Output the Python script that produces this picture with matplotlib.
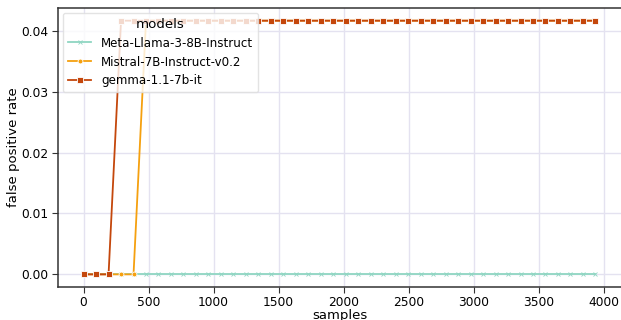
import matplotlib
matplotlib.use("Agg")
import matplotlib.pyplot as plt

samples = [0, 96, 192, 288, 384, 480, 576, 672, 768, 864, 960, 1056, 1152, 1248,
           1344, 1440, 1536, 1632, 1728, 1824, 1920, 2016, 2112, 2208, 2304, 2400,
           2496, 2592, 2688, 2784, 2880, 2976, 3072, 3168, 3264, 3360, 3456, 3552,
           3648, 3744, 3840, 3936]

H = 0.041667
llama = [0.0] * 42
mistral = [0, 0, 0, 0, 0, H, H, H, H, H, H, H, H, H, H, H, H, H, H, H, H, H, H, H,
           H, H, H, H, H, H, H, H, H, H, H, H, H, H, H, H, H, H]
gemma = [0, 0, 0, H, H, H, H, H, H, H, H, H, H, H, H, H, H, H, H, H, H, H, H, H,
         H, H, H, H, H, H, H, H, H, H, H, H, H, H, H, H, H, H]

models = ["Meta-Llama-3-8B-Instruct", "Mistral-7B-Instruct-v0.2", "gemma-1.1-7b-it"]
series = [llama, mistral, gemma]
colors = ["#8fd6c2", "#f5a00f", "#c4470c"]
markers = ["x", "o", "s"]

fig = plt.figure(figsize=(6.21, 3.2), dpi=100)
ax = fig.add_axes([0.0934, 0.103, 0.9066, 0.872])

for name, vals, c, m in zip(models, series, colors, markers):
    ax.plot(samples, vals, color=c, marker=m, markersize=3.8 if m == "s" else 3.5,
            linewidth=1.3,
            markeredgecolor="white" if m != "x" else c, markeredgewidth=0.6,
            label=name)

ax.grid(True, color="#e4e2f0", linewidth=1.0)
ax.set_axisbelow(True)
for s in ["top", "bottom", "left"]:
    ax.spines[s].set_color("#333333")
    ax.spines[s].set_linewidth(1.1)
ax.spines["right"].set_visible(False)

ax.set_yticks([0.0, 0.01, 0.02, 0.03, 0.04])
ax.set_xticks([0, 500, 1000, 1500, 2000, 2500, 3000, 3500, 4000])
ax.tick_params(labelsize=8.8, length=4, color="#333333", pad=3)
ax.tick_params(axis="x", pad=2.5)
ax.set_xlabel("samples", fontsize=9.5, labelpad=0)
ax.set_ylabel("false positive rate", fontsize=9.5, labelpad=1)

leg = ax.legend(title="models", loc="upper left", fontsize=8.6, title_fontsize=9.6,
                framealpha=0.8, borderaxespad=0.4)
leg.get_frame().set_edgecolor("#dddddd")

fig.savefig("out.png", dpi=100)
